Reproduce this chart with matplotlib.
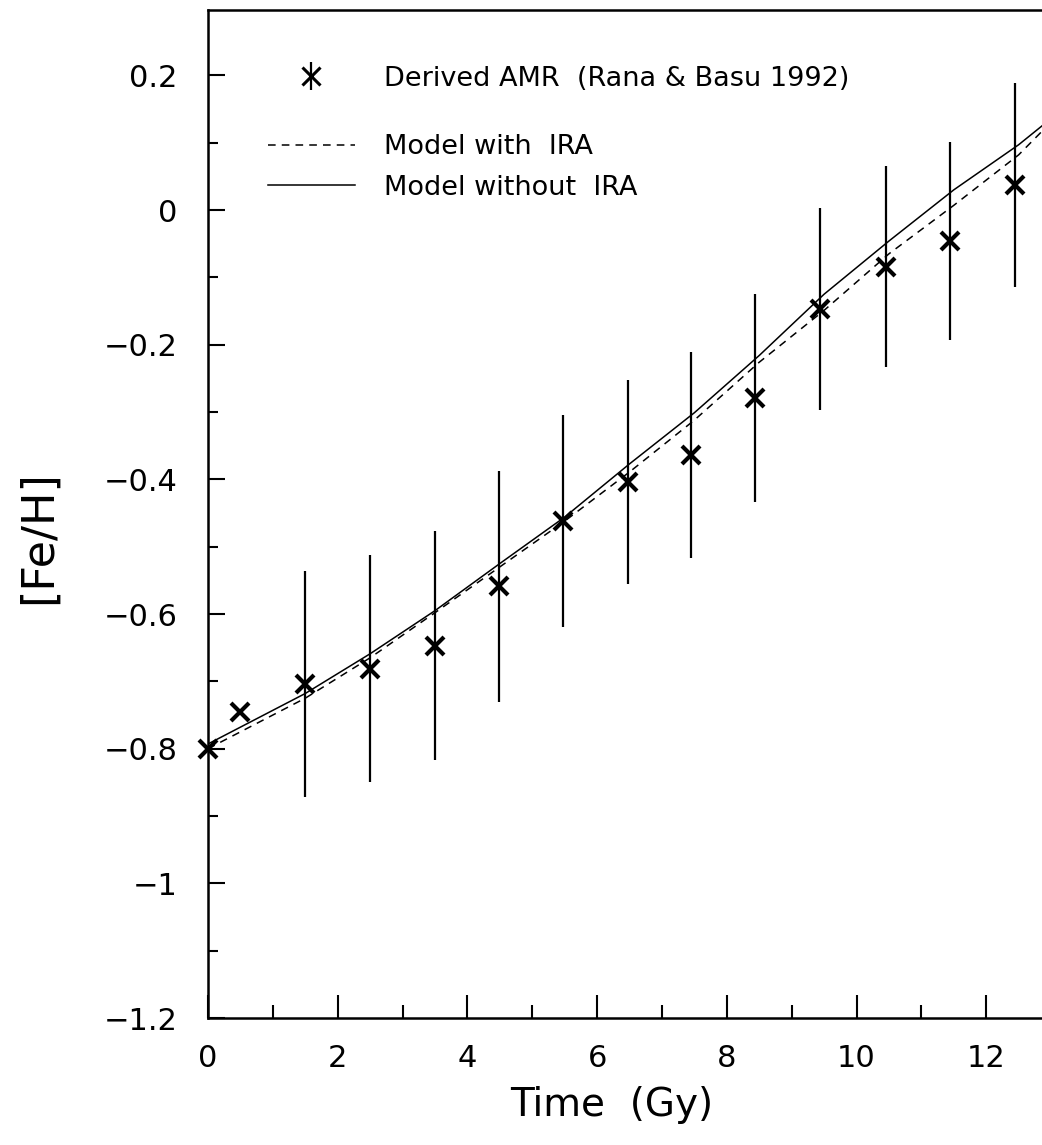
import matplotlib
matplotlib.use("Agg")
import matplotlib.pyplot as plt
from matplotlib.ticker import MultipleLocator, FuncFormatter
from matplotlib.lines import Line2D

# derived age-metallicity relation (Rana & Basu 1992)
amr_time = [0.0, 0.5, 1.5, 2.5, 3.5, 4.48, 5.47, 6.47, 7.45, 8.44, 9.44, 10.45, 11.44, 12.44]
amr_feh = [-0.800, -0.746, -0.704, -0.681, -0.647, -0.559, -0.462, -0.404, -0.364, -0.279,
           -0.147, -0.084, -0.046, 0.037]
amr_err = [0.0, 0.0, 0.168, 0.168, 0.170, 0.172, 0.157, 0.151, 0.153, 0.155,
           0.150, 0.149, 0.147, 0.151]

# model curves
model_time = [0.0, 1.5, 2.5, 3.5, 4.5, 5.5, 6.5, 7.5, 8.5, 9.5, 10.5, 11.5, 12.5, 12.86]
with_ira = [-0.800, -0.725, -0.665, -0.598, -0.530, -0.462, -0.389, -0.312, -0.226,
            -0.149, -0.065, 0.007, 0.082, 0.117]
without_ira = [-0.793, -0.718, -0.659, -0.595, -0.525, -0.456, -0.377, -0.301, -0.216,
               -0.125, -0.046, 0.030, 0.097, 0.125]

plt.rcParams['font.family'] = ['DejaVu Sans']


def tick_fmt(v, pos):
    return ('%g' % round(v, 2)).replace('-', '\u2212')


fig = plt.figure(figsize=(10.42, 11.45), dpi=100)
ax = fig.add_axes([0.1996, 0.1109, 0.8004, 0.8803])

has_err = [e > 0 for e in amr_err]
ax.errorbar([t for t, h in zip(amr_time, has_err) if h],
            [f for f, h in zip(amr_feh, has_err) if h],
            yerr=[e for e, h in zip(amr_err, has_err) if h],
            fmt='none', ecolor='black', elinewidth=1.6, capsize=0)
ax.plot(amr_time, amr_feh, 'x', color='black', ms=13, mew=3.0, clip_on=False, zorder=4)

ax.plot(model_time, with_ira, color='black', lw=1.1, ls=(0, (5, 4)))
ax.plot(model_time, without_ira, color='black', lw=1.1)

ax.set_xlim(0, 12.86)
ax.set_ylim(-1.2, 0.297)
ax.xaxis.set_major_locator(MultipleLocator(2))
ax.xaxis.set_minor_locator(MultipleLocator(1))
ax.yaxis.set_major_locator(MultipleLocator(0.2))
ax.yaxis.set_minor_locator(MultipleLocator(0.1))
ax.yaxis.set_major_formatter(FuncFormatter(tick_fmt))
ax.xaxis.set_major_formatter(FuncFormatter(tick_fmt))

ax.tick_params(axis='x', which='major', direction='in', length=16.5, width=1.5,
               labelsize=22, pad=19, top=False)
ax.tick_params(axis='x', which='minor', direction='in', length=9.5, width=1.5, top=False)
ax.tick_params(axis='y', which='major', direction='in', length=12.5, width=1.5,
               labelsize=22, pad=22, right=False)
ax.tick_params(axis='y', which='minor', direction='in', length=7, width=1.5, right=False)

for s in ['left', 'bottom', 'top']:
    ax.spines[s].set_linewidth(1.8)
ax.spines['right'].set_visible(False)

ax.set_xlabel('Time  (Gy)', fontsize=28)
ax.set_ylabel('[Fe/H]', fontsize=32)
ax.xaxis.set_label_coords(0.484, -0.086)
ax.xaxis.label.set_va('center')
ax.yaxis.set_label_coords(-0.203, 0.477)
ax.yaxis.label.set_va('center')

# legend: data entry on its own row, models below
data_handle = ax.errorbar([], [], yerr=[], fmt='x', color='black', ms=13, mew=2.2,
                          elinewidth=1.6, capsize=0)
leg1 = ax.legend([data_handle], ['Derived AMR  (Rana & Basu 1992)'],
                 loc='upper left', bbox_to_anchor=(0.072, 0.945), frameon=False,
                 fontsize=19.5, borderpad=0, borderaxespad=0, handlelength=3.2,
                 handletextpad=1.1)
ax.add_artist(leg1)
model_handles = [Line2D([], [], color='black', lw=1.1, ls=(0, (5, 4))),
                 Line2D([], [], color='black', lw=1.1)]
ax.legend(model_handles, ['Model with  IRA', 'Model without  IRA'],
          loc='upper left', bbox_to_anchor=(0.072, 0.877), frameon=False,
          fontsize=19.5, borderpad=0, borderaxespad=0, handlelength=3.2,
          handletextpad=1.1, labelspacing=0.55)

fig.savefig('out.png', dpi=100)
